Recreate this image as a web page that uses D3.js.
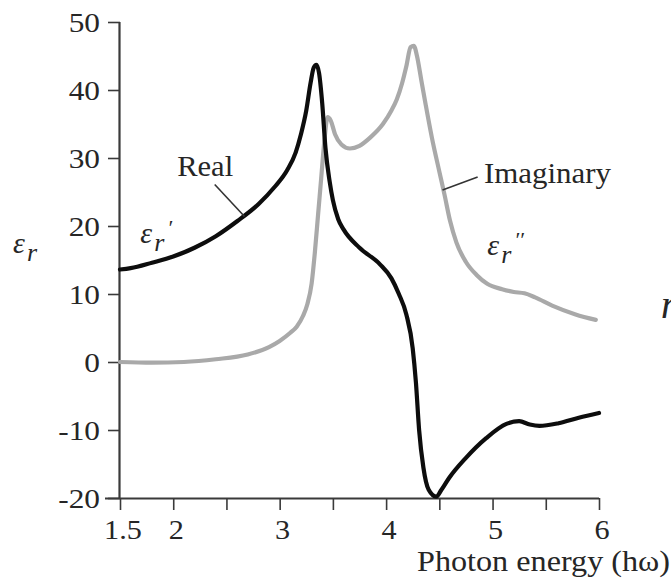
<!DOCTYPE html>
<html>
<head>
<meta charset="utf-8">
<script src="https://cdn.jsdelivr.net/npm/d3@7"></script>
<style>
  html, body { margin: 0; padding: 0; background: #fff; }
  svg { display: block; }
  text { font-family: "Liberation Serif", "Times New Roman", Times, serif; fill: #262626; }
</style>
</head>
<body>
<svg id="chart" width="671" height="584" font-family="Liberation Serif"></svg>
<script>
// ---- data ----
const realEnergy = [1.5, 1.6, 1.8, 2.0, 2.2, 2.4, 2.6, 2.8, 2.95, 3.07, 3.15, 3.2, 3.25, 3.29, 3.32, 3.345, 3.37, 3.40, 3.43, 3.47, 3.50, 3.55, 3.60, 3.75, 3.94, 4.05, 4.12, 4.19, 4.25, 4.28, 4.31, 4.35, 4.40, 4.47, 4.52, 4.59, 4.75, 4.94, 5.13, 5.25, 5.35, 5.44, 5.62, 5.81, 6.0];
const realValue  = [13.6, 13.8, 14.6, 15.5, 16.8, 18.5, 20.7, 23.2, 25.7, 28.2, 30.8, 33.5, 37.0, 41.0, 43.3, 43.7, 42.5, 38.0, 31.5, 26.5, 23.8, 21.0, 19.5, 16.8, 14.4, 12.3, 10.0, 7.0, 2.0, -3.0, -10.0, -15.5, -18.8, -19.8, -18.8, -17.1, -14.1, -11.2, -9.1, -8.7, -9.2, -9.4, -9.0, -8.2, -7.5];

const imagEnergy = [1.5, 1.8, 2.1, 2.4, 2.7, 2.9, 3.0, 3.1, 3.16, 3.22, 3.26, 3.30, 3.33, 3.36, 3.39, 3.42, 3.45, 3.48, 3.52, 3.58, 3.66, 3.75, 3.85, 3.97, 4.05, 4.10, 4.15, 4.19, 4.23, 4.26, 4.29, 4.33, 4.37, 4.43, 4.50, 4.55, 4.60, 4.66, 4.75, 4.85, 4.95, 5.09, 5.20, 5.30, 5.40, 5.56, 5.78, 5.97];
const imagValue  = [0, -0.1, 0, 0.4, 1.1, 2.2, 3.1, 4.3, 5.2, 6.8, 8.5, 11.5, 16.0, 21.5, 27.0, 32.5, 36.0, 35.5, 33.5, 32.0, 31.4, 31.8, 33.0, 35.0, 37.0, 38.6, 41.0, 43.5, 46.3, 46.5, 45.0, 41.5, 38.0, 33.0, 28.0, 24.5, 20.8, 17.6, 14.7, 12.8, 11.5, 10.7, 10.3, 10.1, 9.5, 8.3, 7.0, 6.2];

const xTicks = [1.5, 2, 2.5, 3, 3.5, 4, 4.5, 5, 5.5, 6];
const xTickLabels = ["1.5", "2", "", "3", "", "4", "", "5", "", "6"];
const yTicks = [-20, -10, 0, 10, 20, 30, 40, 50];
const yTickLabels = ["-20", "-10", "0", "10", "20", "30", "40", "50"];

const xTitle = "Photon energy (hω)";
const realLabel = "Real";
const imagLabel = "Imaginary";

// ---- layout ----
const svg = d3.select("#chart");
const margin = { left: 120, top: 22, right: 72, bottom: 86 };
const W = 671, H = 584;
const x = d3.scaleLinear().domain([1.5, 6]).range([margin.left, W - margin.right]);
const y = d3.scaleLinear().domain([-20, 50]).range([H - margin.bottom, margin.top]);

const axisColor = "#3a3a3a";

// x axis
const xAxis = svg.append("g")
  .attr("transform", `translate(0,${y(-20)})`)
  .call(d3.axisBottom(x).tickValues(xTicks).tickSize(12).tickFormat(""));
xAxis.select(".domain").attr("stroke", axisColor).attr("stroke-width", 2.2)
  .attr("d", `M${x(1.5) - 15},0.5H${x(6)}`);
xAxis.selectAll(".tick line").attr("stroke", axisColor).attr("stroke-width", 1.6);

// x tick labels
xTicks.forEach((t, i) => {
  if (!xTickLabels[i]) return;
  svg.append("g").attr("transform", `translate(${x(t) + 3},${y(-20) + 41})`)
    .append("text")
    .attr("text-anchor", "middle")
    .attr("transform", "scale(1.12,1)")
    .attr("font-size", 27)
    .text(xTickLabels[i]);
});

// y axis
const yAxis = svg.append("g")
  .attr("transform", `translate(${x(1.5)},0)`)
  .call(d3.axisLeft(y).tickValues(yTicks).tickSize(12).tickFormat(""));
yAxis.select(".domain").attr("stroke", axisColor).attr("stroke-width", 2.2)
  .attr("d", `M-0.5,${y(50)}V${y(-20)}`);
yAxis.selectAll(".tick line").attr("stroke", axisColor).attr("stroke-width", 1.6);

yTicks.forEach((t, i) => {
  svg.append("g").attr("transform", `translate(${x(1.5) - 20},${y(t) + 10})`)
    .append("text")
    .attr("text-anchor", "end")
    .attr("transform", "scale(1.12,1)")
    .attr("font-size", 28)
    .text(yTickLabels[i]);
});

// curves
const line = d3.line().x(d => x(d[0])).y(d => y(d[1])).curve(d3.curveMonotoneX);
const imagData = imagEnergy.map((e, i) => [e, imagValue[i]]);
const realData = realEnergy.map((e, i) => [e, realValue[i]]);

svg.append("path").datum(imagData)
  .attr("d", line).attr("fill", "none")
  .attr("stroke", "#a9a9a9").attr("stroke-width", 4.2)
  .attr("stroke-linejoin", "round").attr("stroke-linecap", "round");

svg.append("path").datum(realData)
  .attr("d", line).attr("fill", "none")
  .attr("stroke", "#0d0d0d").attr("stroke-width", 4.2)
  .attr("stroke-linejoin", "round").attr("stroke-linecap", "round");

// annotations (placed in data coordinates)
svg.append("text").attr("x", x(2.3)).attr("y", y(27.4))
  .attr("text-anchor", "middle").attr("font-size", 29)
  .attr("textLength", 56).attr("lengthAdjust", "spacingAndGlyphs")
  .text(realLabel);
svg.append("line")
  .attr("x1", x(2.39)).attr("y1", y(26.1))
  .attr("x2", x(2.67)).attr("y2", y(21.4))
  .attr("stroke", "#333").attr("stroke-width", 1.6);

svg.append("text").attr("x", x(4.92)).attr("y", y(26.3))
  .attr("font-size", 29)
  .attr("textLength", 127).attr("lengthAdjust", "spacingAndGlyphs")
  .text(imagLabel);
svg.append("line")
  .attr("x1", x(4.53)).attr("y1", y(25.3))
  .attr("x2", x(4.86)).attr("y2", y(27.2))
  .attr("stroke", "#333").attr("stroke-width", 1.6);

// epsilon symbols
function epsLabel(px, py, primes) {
  const g = svg.append("g").attr("transform", `translate(${px},${py})`);
  g.append("text").attr("font-style", "italic").attr("font-size", 30).text("ε");
  g.append("text").attr("x", 14).attr("y", 8).attr("font-style", "italic").attr("font-size", 26).text("r");
  if (primes) {
    g.append("text").attr("x", 27).attr("y", -8).attr("font-style", "italic").attr("font-size", 22)
      .text(primes);
  }
}
epsLabel(x(1.69), y(17.5), "′");
epsLabel(x(4.95), y(15.8), "′′");
epsLabel(13, 253, "");

// x-axis title
svg.append("text").attr("x", 417).attr("y", 571)
  .attr("font-size", 29)
  .attr("textLength", 253).attr("lengthAdjust", "spacingAndGlyphs")
  .text(xTitle);

// partially visible glyph at right edge (cut off in the original figure too)
svg.append("text").attr("x", 661).attr("y", 318)
  .attr("font-style", "italic").attr("font-size", 40).text("n");
</script>
</body>
</html>
